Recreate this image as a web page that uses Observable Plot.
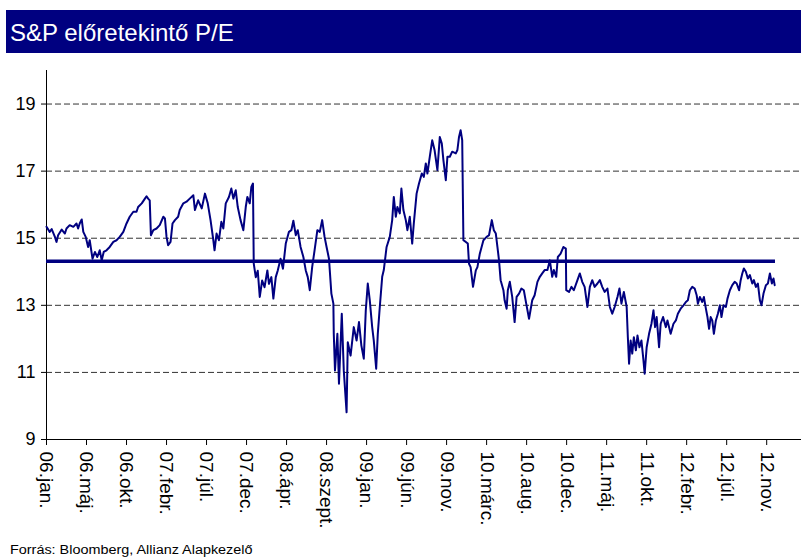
<!DOCTYPE html>
<html>
<head>
<meta charset="utf-8">
<script src="https://cdn.jsdelivr.net/npm/d3@7"></script>
<script src="https://cdn.jsdelivr.net/npm/@observablehq/plot@0.6"></script>
<style>
  html, body { margin: 0; padding: 0; background: #fff; width: 801px; height: 558px; overflow: hidden; position: relative; }
  #title { position: absolute; left: 6px; top: 10px; width: 795px; height: 43px; background: #000080; color: #fff;
           font-family: Arial, "Liberation Sans", sans-serif; font-size: 24px; line-height: 45px; padding-left: 4px; box-sizing: border-box; }
  #chart { position: absolute; left: 0; top: 60px; }
  #caption { position: absolute; left: 10px; top: 543px; font-family: Arial, "Liberation Sans", sans-serif; font-size: 12px;
             transform: scaleX(1.2); transform-origin: left top; color: #000; white-space: nowrap; }
</style>
</head>
<body>
<div id="title">S&amp;P előretekintő P/E</div>
<div id="chart"></div>
<div id="caption">Forrás: Bloomberg, Allianz Alapkezelő</div>
<script>
// x positions are trading-day indices (100 trading days between labelled ticks)
const tickDays = [0,100,200,300,400,500,600,700,800,900,1000,1100,1200,1300,1400,1500,1600,1700,1800];
const tickLabels = ["06.jan.","06.máj.","06.okt.","07.febr.","07.júl.","07.dec.","08.ápr.","08.szept.","09.jan.","09.jún.","09.nov.","10.márc.","10.aug.","10.dec.","11.máj.","11.okt.","12.febr.","12.júl.","12.nov."];
const yTicks = [9,11,13,15,17,19];
const averagePE = 14.31;
const lastDay = 1822;

const tradingDay = [
  0,8,13,21,25,29,38,46,50,58,67,75,79,83,88,92,98,104,108,115,121,127,133,138,143,150,158,167,175,183,192,200,208,217,225,229,238,246,250,254,258,261,267,275,283,292,296,300,304,310,315,321,329,333,342,350,358,367,371,379,388,396,
  403,410,417,420,425,431,437,442,448,456,462,467,473,478,485,492,498,502,508,512,516,518,523,528,533,539,545,552,556,562,567,573,578,585,591,598,606,612,617,623,628,635,642,648,653,658,664,670,677,683,689,695,700,706,712,717,718,721,727,731,738,743,750,753,760,768,775,781,787,793,
  798,803,808,814,818,824,828,833,839,843,850,858,864,868,873,877,883,887,892,898,902,908,914,918,925,931,938,943,948,952,958,964,970,977,983,988,992,998,1002,1008,1014,1023,1027,1031,1035,1039,1042,1048,1053,1056,1060,1066,1073,1077,1083,1092,1100,1106,1113,1118,1123,1127,1131,1135,1142,1145,1150,1153,1158,1164,1170,1175,1181,1187,1193,1199,1206,
  1214,1220,1227,1233,1239,1245,1252,1258,1264,1268,1274,1278,1285,1292,1298,1299,1306,1312,1318,1327,1333,1339,1345,1352,1358,1364,1370,1377,1383,1389,1395,1402,1408,1414,1420,1427,1432,1437,1443,1450,1453,1456,1460,1464,1468,1473,1477,1482,1487,1492,1495,1500,1506,1512,1517,1521,1525,1531,1535,1541,1548,1552,
  1560,1567,1573,1578,1585,1592,1598,1603,1608,1614,1620,1625,1628,1633,1639,1643,1648,1652,1656,1660,1664,1668,1673,1678,1683,1687,1692,1698,1702,1708,1714,1720,1725,1731,1735,1739,1743,1748,1753,1758,1764,1768,1773,1778,1783,1787,1792,1798,1803,1808,1813,1817,1820
];
const forwardPE = [
  15.34,15.19,15.27,15.04,14.89,15.09,15.26,15.14,15.29,15.39,15.34,15.44,15.29,15.44,15.56,15.19,15.04,14.74,14.94,14.39,14.59,14.44,14.64,14.34,14.59,14.64,14.74,14.89,14.94,15.04,15.19,15.44,15.64,15.79,15.79,15.93,16.04,16.18,16.25,16.18,16.13,15.09,15.24,15.29,15.39,15.64,15.59,15.04,14.79,14.89,15.44,15.54,15.64,15.84,16.04,16.09,16.18,16.28,15.84,16.13,15.89,16.33,
  16.04,15.54,14.94,14.64,15.14,14.94,15.49,15.29,16.04,16.23,16.48,16.18,16.43,15.93,15.54,15.24,15.93,16.23,16.04,16.53,16.63,14.24,13.84,14.03,13.25,13.74,13.54,14.04,13.64,13.84,13.20,13.84,14.04,14.39,14.09,14.84,15.19,15.24,15.52,15.09,15.24,14.74,14.44,14.04,13.84,13.45,14.14,14.64,15.24,15.19,15.54,15.04,14.74,14.39,13.35,13.05,12.15,11.06,12.15,10.66,12.75,11.06,9.81,11.9,11.5,12.35,11.95,12.5,11.8,11.41,
  12.85,13.65,13.15,12.35,11.95,11.11,12.15,12.95,13.85,14.05,14.74,15.04,15.54,16.23,15.64,15.93,15.74,16.48,15.84,15.54,15.24,15.64,14.84,15.44,16.33,16.63,16.93,16.83,17.23,16.93,17.43,17.92,17.62,17.03,18.02,17.82,17.33,16.73,17.43,17.43,17.58,17.53,17.63,18.02,18.22,17.92,14.94,14.89,14.84,14.24,14.14,13.55,14.04,14.14,14.54,14.94,15.04,15.09,15.54,15.24,15.14,14.74,14.34,13.75,13.45,13.15,12.9,13.45,13.7,13.25,12.5,13.25,13.35,13.5,13.45,13.05,12.6,
  13.15,13.3,13.7,13.85,13.95,14.05,14.05,14.34,13.85,14.05,13.85,14.44,14.54,14.74,14.69,13.45,13.4,13.55,13.45,13.75,13.95,13.7,13.55,12.95,13.55,13.75,13.55,13.65,13.75,13.55,13.4,13.5,12.95,12.75,12.95,13.25,13.5,13.05,13.4,12.95,12.05,11.26,11.95,11.56,12.05,11.66,12.1,11.75,11.95,11.36,10.96,11.75,12.15,12.45,12.85,12.35,12.65,11.75,12.45,12.65,12.35,12.55,
  12.15,12.45,12.55,12.75,12.9,13.0,13.1,13.15,13.45,13.55,13.5,13.3,13.05,13.25,13.1,13.25,12.9,12.65,12.3,12.65,12.55,12.15,12.55,12.75,13.0,12.65,13.0,12.95,13.2,13.45,13.6,13.7,13.65,13.45,13.75,13.95,14.1,14.0,13.8,13.9,13.65,13.75,13.55,13.65,13.15,13.0,13.35,13.6,13.65,13.95,13.65,13.8,13.6
];

const data = tradingDay.map((d, i) => ({day: d, pe: forwardPE[i]}));
const navy = "#000080";

const chart = Plot.plot({
  width: 801,
  height: 480,
  marginLeft: 46,
  marginRight: 0,
  marginTop: 10,
  marginBottom: 101,
  style: {fontFamily: "Arial, 'Liberation Sans', sans-serif", fontSize: "18px", color: "#000", background: "transparent"},
  x: {domain: [0, 1887], ticks: tickDays, tickFormat: (d) => tickLabels[tickDays.indexOf(d)], tickRotate: 90, tickSize: 6, tickPadding: 6, label: null},
  y: {domain: [9, 20], ticks: yTicks, tickSize: 5, tickPadding: 6, label: null},
  marks: [
    Plot.ruleY(yTicks.filter(v => v > 9), {stroke: "#333", strokeWidth: 1, strokeDasharray: "6,3"}),
    Plot.ruleX([0], {y1: 9, y2: 20, stroke: "#000"}),
    Plot.ruleY([9], {stroke: "#000"}),
    Plot.ruleY([averagePE], {x1: 0, x2: lastDay, stroke: navy, strokeWidth: 3.5}),
    Plot.line(data, {x: "day", y: "pe", stroke: navy, strokeWidth: 2, strokeLinejoin: "round"})
  ]
});
document.getElementById("chart").appendChild(chart);
d3.select(chart).selectAll('g[aria-label^="x-axis"] text').style("font-size", "19px");
</script>
</body>
</html>
